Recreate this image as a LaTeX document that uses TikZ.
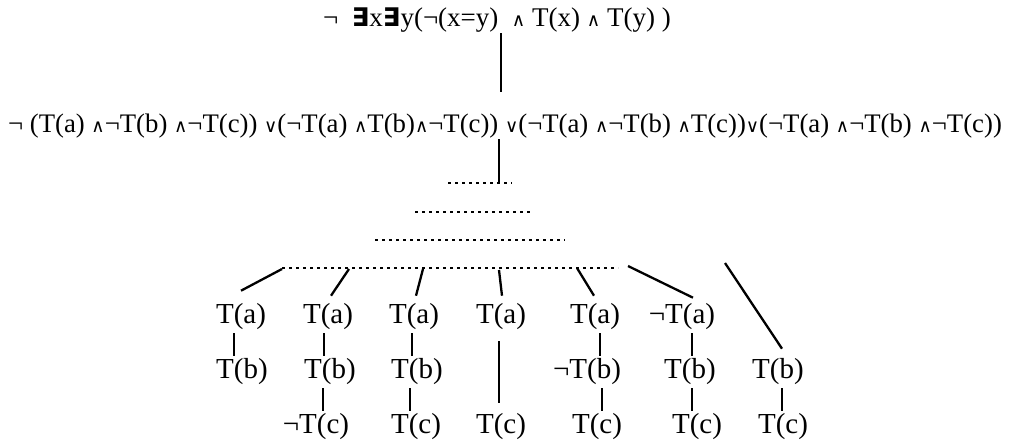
\documentclass[tikz,border=0pt]{standalone}
\usepackage{fontspec}
\usepackage{graphicx}
\setmainfont{Liberation Serif}
\newfontfamily\opfont{DejaVu Sans}
\newcommand{\lgAnd}{\scalebox{0.68}{\opfont ∧}}
\newcommand{\lgOr}{\scalebox{0.68}{\opfont ∨}}
\newcommand{\lgEx}{\scalebox{0.95}{\opfont\bfseries ∃}}

\begin{document}
\begin{tikzpicture}[x=1pt, y=-1pt, line width=2.3pt,
  formula/.style={font=\fontsize{27}{31}\selectfont, inner sep=0pt},
  lit/.style={font=\fontsize{29}{34}\selectfont, inner sep=2pt},
  dotrow/.style={line width=2.6pt, dash pattern=on 2.6pt off 4.4pt}]

\useasboundingbox (0,0) rectangle (1009,444);

% the two formulas
\node[formula] (top) at (497,20) {¬~~\lgEx x\lgEx y(¬(x=y)~~\lgAnd{} T(x) \lgAnd{} T(y) )};
\node[formula, font=\fontsize{26.75}{31}\selectfont] (mid) at (505,126) {¬ (T(a) \lgAnd{}¬T(b) \lgAnd{}¬T(c)) \lgOr{}(¬T(a) \lgAnd{}T(b)\lgAnd{}¬T(c)) \lgOr{}(¬T(a) \lgAnd{}¬T(b) \lgAnd{}T(c))\lgOr{}(¬T(a) \lgAnd{}¬T(b) \lgAnd{}¬T(c))};

\draw ([xshift=4pt]top.south) -- ([xshift=4pt]top.south |- mid.north) [shorten >=21pt];

% rows of dots
\foreach \y/\xa/\xb in {183/448/512, 212/415/532, 240/375/565, 268/282/618}
  \draw[dotrow] (\xa,\y) -- (\xb,\y);

\coordinate (r1) at (499,183);
\draw ([xshift=-6pt]mid.south) -- (r1);

\coordinate (p1) at (282,269);
\coordinate (p2) at (349,269);
\coordinate (p3) at (423,269);
\coordinate (p4) at (499,270);
\coordinate (p5) at (577,268);
\coordinate (p6) at (628,266);
\coordinate (p7) at (725,263);

% literals
\node[lit] (a1) at (241,317) {T(a)};
\node[lit] (b1) at (242,372) {T(b)};
\node[lit] (a2) at (328,317) {T(a)};
\node[lit] (b2) at (330,372) {T(b)};
\node[lit] (c2) at (316,427) {¬T(c)};
\node[lit] (a3) at (414,317) {T(a)};
\node[lit] (b3) at (417,372) {T(b)};
\node[lit] (c3) at (416,427) {T(c)};
\node[lit] (a4) at (501,317) {T(a)};
\node[lit] (c4) at (501,427) {T(c)};
\node[lit] (a5) at (595,317) {T(a)};
\node[lit] (b5) at (587,372) {¬T(b)};
\node[lit] (c5) at (597,427) {T(c)};
\node[lit] (a6) at (682,317) {¬T(a)};
\node[lit] (b6) at (690,372) {T(b)};
\node[lit] (c6) at (697,427) {T(c)};
\node[lit] (b7) at (778,372) {T(b)};
\node[lit] (c7) at (783,427) {T(c)};

% branches
\draw (p1) -- ([yshift=10pt]a1.north);
\draw (p2) -- ([xshift=3pt,yshift=5pt]a2.north);
\draw (p3) -- ([xshift=2pt,yshift=5pt]a3.north);
\draw (p4) -- ([xshift=1pt,yshift=5pt]a4.north);
\draw (p5) -- ([xshift=-1pt,yshift=5pt]a5.north);
\draw (p6) -- ([xshift=11pt,yshift=3pt]a6.north);
\draw (p7) -- ([xshift=4pt,yshift=7pt]b7.north);

% stems
\draw ([xshift=-7pt]a1.south) -- ([xshift=-7pt]a1.south |- b1.north);
\draw ([xshift=-4pt]a2.south) -- ([xshift=-4pt]a2.south |- b2.north);
\draw ([xshift=-7pt]b2.south) -- ([xshift=-7pt]b2.south |- c2.north);
\draw ([xshift=-2pt]a3.south) -- ([xshift=-2pt]a3.south |- b3.north);
\draw ([xshift=-7pt]b3.south) -- ([xshift=-7pt]b3.south |- c3.north);
\draw[shorten <=8pt, shorten >=8pt] ([xshift=-2pt]a4.south) -- ([xshift=-2pt]a4.south |- c4.north);
\draw ([xshift=5pt]a5.south) -- ([xshift=5pt]a5.south |- b5.north);
\draw ([xshift=15pt]b5.south) -- ([xshift=15pt]b5.south |- c5.north);
\draw ([xshift=10pt]a6.south) -- ([xshift=10pt]a6.south |- b6.north);
\draw ([xshift=2pt]b6.south) -- ([xshift=2pt]b6.south |- c6.north);
\draw ([xshift=4pt]b7.south) -- ([xshift=4pt]b7.south |- c7.north);
\end{tikzpicture}
\end{document}
